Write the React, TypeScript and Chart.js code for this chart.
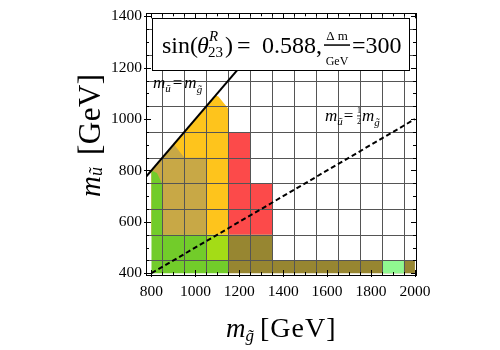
import React, { useEffect, useRef } from "react";
import { Chart, registerables } from "chart.js";

Chart.register(...registerables);

// ---- data ----
const xRange = [775, 2005];
const yRange = [393, 1412];
const xTickValues = [800, 1000, 1200, 1400, 1600, 1800, 2000];
const yTickValues = [400, 600, 800, 1000, 1200, 1400];
const gridXValues = [850, 950, 1050, 1150, 1250, 1350, 1450, 1550, 1650, 1750, 1850, 1950];
const gridYValues = [450, 550, 650, 750, 850, 950, 1050, 1150, 1250, 1350];
const minorStep = 50;
const majorStep = 200;

const yellowRegion = [[800, 800], [1092, 1092], [1105, 1088], [1150, 1040], [1150, 550], [800, 550]];
const khakiRegion = [[800, 800], [902, 902], [950, 850], [1050, 850], [1050, 550], [800, 550]];
const greenRegion = [[800, 400], [1150, 400], [1150, 450], [1050, 450], [1050, 550], [850, 550], [850, 745], [825, 790], [800, 800]];
const limeRegion = [[1050, 450], [1150, 450], [1150, 550], [1050, 550]];
const redRegion = [[1150, 550], [1350, 550], [1350, 750], [1250, 750], [1250, 950], [1150, 950]];
const oliveRegion = [[1150, 400], [2000, 400], [2000, 450], [1350, 450], [1350, 550], [1150, 550]];
const lightGreenRegion = [[1850, 400], [1950, 400], [1950, 450], [1850, 450]];

const equalLine = [[775, 775], [1215, 1215]];
const halfLine = [[800, 400], [2000, 1000]];

const sinValue = "0.588,";
const deltaM = "=300";

// ---- styles ----
const SERIF = "'Liberation Serif', 'Times New Roman', serif";
const regionStyles = [
  { label: "lightgreen", pts: lightGreenRegion, color: "#90f890" },
  { label: "olive", pts: oliveRegion, color: "#978631" },
  { label: "red", pts: redRegion, color: "#fc4a4a" },
  { label: "lime", pts: limeRegion, color: "#a4dc16" },
  { label: "green", pts: greenRegion, color: "#72cc2a" },
  { label: "khaki", pts: khakiRegion, color: "#c8a846" },
  { label: "yellow", pts: yellowRegion, color: "#fec41c" },
];

const toXY = (arr: number[][]) => arr.map(([x, y]) => ({ x, y }));

type Run = { t: string; f: string; dx?: number; dy?: number; ls?: string };
function drawRuns(ctx: CanvasRenderingContext2D, x: number, y: number, runs: Run[]) {
  let cx = x;
  for (const r of runs) {
    ctx.font = r.f;
    (ctx as any).letterSpacing = r.ls || "0px";
    cx += r.dx || 0;
    ctx.fillText(r.t, cx, y + (r.dy || 0));
    cx += ctx.measureText(r.t).width;
  }
  (ctx as any).letterSpacing = "0px";
}

const overlayPlugin = {
  id: "overlay",
  afterDatasetDraw(chart: any, args: any) {
    if (chart.data.datasets[args.index].label !== "lightgreen") return;
    const { ctx, chartArea: a, scales } = chart;
    ctx.save();
    ctx.strokeStyle = "#555";
    ctx.lineWidth = 1;
    ctx.beginPath();
    for (const v of gridXValues) {
      const px = Math.round(scales.x.getPixelForValue(v)) + 0.5;
      ctx.moveTo(px, a.top);
      ctx.lineTo(px, a.bottom);
    }
    for (const v of gridYValues) {
      const py = Math.round(scales.y.getPixelForValue(v)) + 0.5;
      ctx.moveTo(a.left, py);
      ctx.lineTo(a.right, py);
    }
    ctx.stroke();
    ctx.restore();
  },
  afterDraw(chart: any) {
    const { ctx, chartArea: a, scales } = chart;
    ctx.save();
    // frame
    ctx.strokeStyle = "#000";
    ctx.lineWidth = 1;
    ctx.strokeRect(Math.round(a.left) + 0.5, Math.round(a.top) + 0.5, Math.round(a.right - a.left), Math.round(a.bottom - a.top));
    // ticks
    ctx.beginPath();
    for (let v = Math.ceil(xRange[0] / minorStep) * minorStep; v <= xRange[1]; v += minorStep) {
      const major = v % majorStep === 0;
      const len = major ? 5 : 3;
      const px = Math.round(scales.x.getPixelForValue(v)) + 0.5;
      ctx.moveTo(px, a.bottom + (major ? 2 : 0));
      ctx.lineTo(px, a.bottom - len);
      ctx.moveTo(px, a.top);
      ctx.lineTo(px, a.top + len);
    }
    for (let v = Math.ceil(yRange[0] / minorStep) * minorStep; v <= yRange[1]; v += minorStep) {
      const major = v % majorStep === 0;
      const len = major ? 5 : 3;
      const py = Math.round(scales.y.getPixelForValue(v)) + 0.5;
      ctx.moveTo(a.left - (major ? 2 : 0), py);
      ctx.lineTo(a.left + len, py);
      ctx.moveTo(a.right, py);
      ctx.lineTo(a.right - len, py);
    }
    ctx.stroke();

    // annotation box
    const bx = a.left + 6, by = a.top + 5, bw = a.right - a.left - 13, bh = 52;
    ctx.fillStyle = "#fff";
    ctx.fillRect(bx, by, bw, bh);
    ctx.strokeStyle = "#000";
    ctx.lineWidth = 1;
    ctx.strokeRect(Math.round(bx) + 0.5, Math.round(by) + 0.5, Math.round(bw), Math.round(bh));
    ctx.fillStyle = "#000";
    ctx.textBaseline = "alphabetic";
    ctx.textAlign = "left";
    const base = by + 35;
    ctx.font = `24px ${SERIF}`;
    ctx.fillText("sin(", bx + 10, base);
    ctx.font = `italic 24px ${SERIF}`;
    ctx.fillText("θ", bx + 45, base);
    ctx.font = `italic 15px ${SERIF}`;
    ctx.fillText("R", bx + 57, base - 12);
    ctx.font = `15px ${SERIF}`;
    ctx.fillText("23", bx + 56, base + 4);
    ctx.font = `24px ${SERIF}`;
    ctx.fillText(")", bx + 73, base);
    ctx.fillText("=", bx + 85, base);
    ctx.fillText(sinValue, bx + 110, base);
    // fraction Δm / GeV
    const fc = bx + 185;
    ctx.textAlign = "center";
    ctx.font = `13px ${SERIF}`;
    ctx.fillText("Δ m", fc, by + 22);
    ctx.font = `12px ${SERIF}`;
    ctx.fillText("GeV", fc, by + 47);
    ctx.fillRect(fc - 13, by + 26, 26, 1.5);
    ctx.textAlign = "left";
    ctx.font = `24px ${SERIF}`;
    ctx.fillText(deltaM, bx + 200, base);

    // line labels
    const m17 = `italic 17px ${SERIF}`;
    const s11 = `italic 11px ${SERIF}`;
    drawRuns(ctx, a.left + 7, 88, [
      { t: "m", f: m17 },
      { t: "ũ", f: s11, dy: 4 },
      { t: "=", f: `17px ${SERIF}`, dx: 2 },
      { t: "m", f: m17, dx: 2 },
      { t: "g̃", f: s11, dy: 5 },
    ]);
    drawRuns(ctx, 325, 121, [
      { t: "m", f: m17 },
      { t: "ũ", f: s11, dy: 4 },
      { t: "=", f: `17px ${SERIF}`, dx: 1 },
    ]);
    ctx.textAlign = "center";
    ctx.font = `8px ${SERIF}`;
    ctx.fillText("1", 359, 113);
    ctx.fillText("2", 359, 124);
    ctx.fillRect(357, 115.5, 4, 0.8);
    ctx.textAlign = "left";
    drawRuns(ctx, 362, 121, [
      { t: "m", f: m17 },
      { t: "g̃", f: s11, dy: 5 },
    ]);

    // axis titles
    drawRuns(ctx, 226, 337, [
      { t: "m", f: `italic 27px ${SERIF}` },
      { t: "g̃", f: `italic 17px ${SERIF}`, dy: 4 },
      { t: "[GeV]", f: `28px ${SERIF}`, dx: 6, ls: "1px" },
    ]);
    ctx.save();
    ctx.translate(100, 197);
    ctx.rotate(-Math.PI / 2);
    drawRuns(ctx, 0, 0, [
      { t: "m", f: `italic 29px ${SERIF}` },
      { t: "ũ", f: `italic 18px ${SERIF}`, dy: 2 },
      { t: "[GeV]", f: `31px ${SERIF}`, dx: 12, ls: "0.5px" },
    ]);
    ctx.restore();
    ctx.restore();
  },
};

export default function App() {
  const ref = useRef<HTMLCanvasElement | null>(null);
  useEffect(() => {
    if (!ref.current) return;
    const datasets: any[] = [
      {
        label: "equal",
        data: toXY(equalLine),
        borderColor: "#000",
        borderWidth: 2,
        pointRadius: 0,
        fill: false,
        order: 0,
      },
      {
        label: "half",
        data: toXY(halfLine),
        borderColor: "#000",
        borderWidth: 2,
        borderDash: [5, 3],
        pointRadius: 0,
        fill: false,
        order: 0,
      },
      ...regionStyles.map((r) => ({
        label: r.label,
        data: toXY(r.pts),
        borderWidth: 0,
        borderColor: "rgba(0,0,0,0)",
        backgroundColor: r.color,
        fill: "shape",
        pointRadius: 0,
        tension: 0,
        order: 1,
      })),
    ];
    const tickFont = { family: SERIF, size: 15.5 };
    const fmt = (v: any) => String(v);
    const chart = new Chart(ref.current, {
      type: "line",
      data: { datasets },
      options: {
        animation: false,
        responsive: false,
        events: [],
        layout: { padding: { left: 0, right: 84, top: 5, bottom: 0 } },
        plugins: { legend: { display: false }, tooltip: { enabled: false } },
        scales: {
          x: {
            type: "linear",
            min: xRange[0],
            max: xRange[1],
            grid: { display: false, drawTicks: false },
            border: { display: false },
            afterBuildTicks: (s: any) => {
              s.ticks = xTickValues.map((v) => ({ value: v }));
            },
            afterFit: (s: any) => {
              s.height = 75;
            },
            ticks: { font: tickFont, color: "#000", padding: 8, maxRotation: 0, autoSkip: false, callback: fmt },
          },
          y: {
            type: "linear",
            min: yRange[0],
            max: yRange[1],
            grid: { display: false, drawTicks: false },
            border: { display: false },
            afterBuildTicks: (s: any) => {
              s.ticks = yTickValues.map((v) => ({ value: v }));
            },
            afterFit: (s: any) => {
              s.width = 146;
            },
            ticks: { font: tickFont, color: "#000", padding: 4, autoSkip: false, callback: fmt },
          },
        },
      } as any,
      plugins: [overlayPlugin],
    });
    return () => chart.destroy();
  }, []);
  return (
    <div style={{ position: "absolute", left: 0, top: 0, width: 500, height: 350, background: "#fff" }}>
      <canvas ref={ref} width={500} height={350} style={{ display: "block" }} />
    </div>
  );
}
